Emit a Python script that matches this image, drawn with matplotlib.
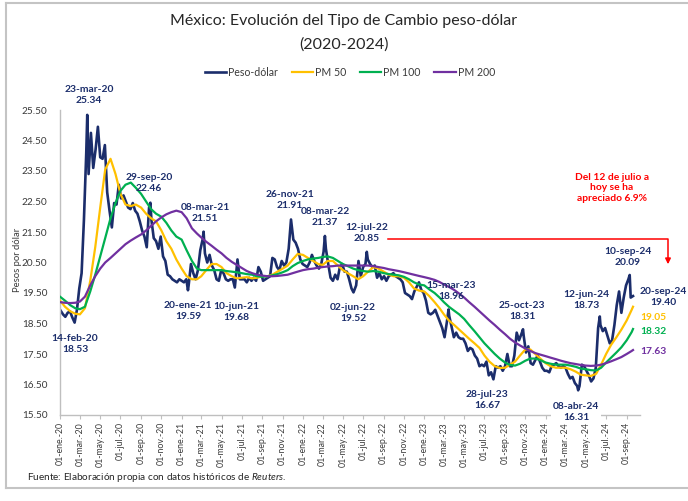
import matplotlib
matplotlib.use("Agg")
import matplotlib.pyplot as plt
import pandas as pd
from matplotlib.lines import Line2D

plt.rcParams["font.family"] = ["Lato", "DejaVu Sans"]
plt.rcParams["mathtext.fontset"] = "custom"
plt.rcParams["mathtext.it"] = "Lato:italic"
plt.rcParams["mathtext.rm"] = "Lato"

NAVY = "#1B2D6B"
GOLD = "#FFC000"
GREEN = "#00B050"
PURPLE = "#7030A0"
RED = "#FF0000"
TXT = "#3A3A3A"

# ---------------- data ----------------
# Weekly (Friday) closes of the peso-dollar exchange rate
fx_2020 = [18.92, 18.80, 18.72, 18.85, 18.90,
           18.70, 18.55, 18.95, 19.65,
           20.15, 21.90, 24.10, 23.40,
           24.75, 23.60, 24.20, 24.95,
           23.95, 23.90, 24.35, 22.80, 22.20,
           21.65, 22.45, 22.40, 23.05,
           22.60, 22.70, 22.50, 22.30, 22.25,
           22.45, 22.20, 22.10, 21.85,
           21.55, 21.35, 21.00, 22.30,
           21.90, 21.30, 21.20, 20.95, 21.35,
           20.70, 20.55, 20.10, 20.05,
           19.95, 19.90, 19.85, 19.95]
fx_2021 = [19.90, 19.85, 19.95, 19.75, 20.45,
           20.15, 19.95, 20.25, 20.90,
           21.25, 20.80, 20.50, 20.75,
           20.40, 20.25, 19.95, 19.90, 20.25,
           20.15, 19.95, 19.90, 19.95,
           19.95, 19.80, 20.60, 19.95,
           19.95, 19.95, 19.85, 20.00, 19.90,
           20.00, 19.90, 20.35, 20.20,
           19.90, 19.95, 20.00, 20.05,
           20.65, 20.60, 20.35, 20.25, 20.55,
           20.40, 20.50, 20.95, 21.91,
           21.25, 21.15, 20.95, 20.60, 20.45]
fx_2022 = [20.40, 20.35, 20.50, 20.75,
           20.55, 20.40, 20.30, 20.45,
           20.85, 20.95, 20.45, 20.00,
           19.90, 20.10, 19.95, 20.35, 20.45,
           20.20, 20.20, 19.95, 19.65,
           19.55, 19.75, 20.55, 20.05,
           20.35, 20.45, 20.60, 20.45, 20.35,
           20.40, 20.00, 20.15, 19.95,
           20.05, 19.90, 20.05, 20.10, 20.15,
           20.05, 20.00, 19.95, 19.85,
           19.50, 19.45, 19.40, 19.30,
           19.55, 19.70, 19.85, 19.60, 19.50]
fx_2023 = [19.25, 18.85, 18.80, 18.85,
           18.95, 18.75, 18.55, 18.35,
           18.05, 18.55, 18.75, 18.40, 18.05,
           18.20, 18.05, 18.00, 18.00,
           17.85, 17.60, 17.70, 17.65,
           17.45, 17.35, 17.10, 17.15, 17.10,
           17.25, 16.80, 16.90, 16.70,
           17.10, 17.05, 17.10, 16.95,
           17.10, 17.50, 17.10, 17.10, 17.45,
           18.20, 17.95, 18.15, 18.10,
           17.55, 17.75, 17.20, 17.15,
           17.30, 17.45, 17.25, 17.05, 16.95]
fx_2024 = [16.95, 16.90, 17.10, 17.15,
           17.20, 17.10, 17.05, 17.10,
           17.05, 16.85, 16.70, 16.75, 16.55,
           16.45, 16.45, 17.15, 17.10,
           16.95, 16.80, 16.60, 16.70, 17.05,
           18.35, 18.45, 18.25, 18.35,
           18.10, 17.85, 17.95, 18.45,
           19.10, 19.55, 18.85, 19.35, 19.75,
           19.95, 19.35, 19.40]

# Highlighted daily closes
label_dates = ["2020-02-14", "2020-03-23", "2020-09-29", "2021-01-20",
               "2021-03-08", "2021-06-10", "2021-11-26", "2022-03-08",
               "2022-06-02", "2022-07-12", "2023-03-15", "2023-07-28",
               "2023-10-25", "2024-04-08", "2024-06-12", "2024-09-10",
               "2024-09-20"]
label_values = [18.53, 25.34, 22.46, 19.59, 21.51, 19.68, 21.91, 21.37,
                19.52, 20.85, 18.96, 16.67, 18.31, 16.31, 18.73, 20.09,
                19.40]
label_names = ["14-feb-20", "23-mar-20", "29-sep-20", "20-ene-21",
               "08-mar-21", "10-jun-21", "26-nov-21", "08-mar-22",
               "02-jun-22", "12-jul-22", "15-mar-23", "28-jul-23",
               "25-oct-23", "08-abr-24", "12-jun-24", "10-sep-24",
               "20-sep-24"]

# Moving averages, sampled on the 1st and 16th of each month
pm50 = [
    19.25, 19.05, 18.90, 18.82, 18.80, 19.00, 19.90, 21.00, 22.30, 23.55, 23.90, 23.40,
    22.75, 22.40, 22.35, 22.40, 22.30, 22.10, 21.95, 21.85, 21.55, 21.20, 20.95, 20.60,
    20.30, 20.05, 19.95, 19.95, 20.05, 20.25, 20.45, 20.45, 20.35, 20.15, 20.05, 19.98,
    20.00, 20.02, 19.98, 20.00, 20.05, 20.05, 20.10, 20.20, 20.30, 20.40, 20.60, 20.78,
    20.75, 20.65, 20.55, 20.45, 20.42, 20.55, 20.55, 20.40, 20.25, 20.15, 20.05, 19.95,
    20.05, 20.20, 20.35, 20.30, 20.20, 20.10, 20.05, 20.05, 20.00, 19.85, 19.65, 19.58,
    19.55, 19.40, 19.20, 19.00, 18.80, 18.60, 18.45, 18.30, 18.15, 18.00, 17.85, 17.70,
    17.45, 17.25, 17.10, 17.04, 17.05, 17.15, 17.25, 17.45, 17.65, 17.65, 17.50, 17.35,
    17.20, 17.10, 17.05, 17.05, 17.05, 17.00, 16.92, 16.82, 16.80, 16.78, 16.85, 17.15,
    17.50, 17.80, 18.05, 18.30, 18.60, 18.95, 19.05]
pm100 = [
    19.38, 19.25, 19.10, 19.00, 18.97, 19.05, 19.55, 20.10, 20.70, 21.30, 21.95, 22.45,
    22.85, 23.05, 23.12, 22.95, 22.75, 22.50, 22.25, 22.10, 22.00, 21.80, 21.55, 21.35,
    21.25, 20.90, 20.55, 20.30, 20.25, 20.25, 20.25, 20.25, 20.25, 20.22, 20.20, 20.18,
    20.15, 20.12, 20.10, 20.05, 20.03, 20.05, 20.08, 20.12, 20.18, 20.25, 20.38, 20.48,
    20.55, 20.60, 20.63, 20.65, 20.68, 20.70, 20.65, 20.55, 20.45, 20.38, 20.30, 20.25,
    20.22, 20.20, 20.22, 20.20, 20.15, 20.12, 20.10, 20.08, 20.03, 19.95, 19.85, 19.78,
    19.75, 19.62, 19.50, 19.35, 19.20, 19.05, 18.92, 18.80, 18.65, 18.45, 18.25, 18.05,
    17.85, 17.68, 17.50, 17.35, 17.22, 17.14, 17.12, 17.18, 17.28, 17.35, 17.35, 17.30,
    17.22, 17.18, 17.15, 17.15, 17.15, 17.12, 17.08, 17.02, 17.00, 16.97, 16.96, 17.05,
    17.22, 17.38, 17.55, 17.72, 17.95, 18.22, 18.32]
pm200 = [
    19.20, 19.18, 19.17, 19.18, 19.22, 19.38, 19.75, 20.05, 20.30, 20.50, 20.65, 20.80,
    20.95, 21.10, 21.22, 21.32, 21.42, 21.55, 21.70, 21.85, 21.98, 22.08, 22.15, 22.20,
    22.15, 21.95, 21.62, 21.45, 21.32, 21.18, 21.05, 20.92, 20.80, 20.65, 20.52, 20.42,
    20.32, 20.22, 20.15, 20.10, 20.07, 20.05, 20.05, 20.06, 20.08, 20.10, 20.15, 20.20,
    20.25, 20.28, 20.30, 20.33, 20.35, 20.37, 20.38, 20.40, 20.40, 20.40, 20.40, 20.40,
    20.40, 20.40, 20.38, 20.35, 20.32, 20.28, 20.25, 20.22, 20.18, 20.14, 20.10, 20.06,
    20.02, 19.98, 19.93, 19.86, 19.78, 19.70, 19.60, 19.48, 19.35, 19.20, 19.05, 18.90,
    18.75, 18.60, 18.45, 18.30, 18.15, 18.00, 17.88, 17.78, 17.68, 17.60, 17.53, 17.48,
    17.43, 17.38, 17.33, 17.28, 17.24, 17.20, 17.17, 17.14, 17.12, 17.11, 17.12, 17.15,
    17.20, 17.26, 17.33, 17.40, 17.50, 17.60, 17.63]

month_abbr = ["ene", "feb", "mar", "abr", "may", "jun",
              "jul", "ago", "sep", "oct", "nov", "dic"]
y_ticks = [15.5, 16.5, 17.5, 18.5, 19.5, 20.5, 21.5, 22.5, 23.5, 24.5, 25.5]

# ---------------- series assembly ----------------
weekly_parts = [(2020, fx_2020, None), (2021, fx_2021, None), (2022, fx_2022, None),
                (2023, fx_2023, None), (2024, fx_2024, "2024-09-20")]
parts = []
for year, vals, end in weekly_parts:
    idx = pd.date_range(f"{year}-01-01", end or f"{year}-12-31", freq="W-FRI")
    parts.append(pd.Series(vals, index=idx))
weekly = pd.concat(parts)
labeled = pd.Series(label_values, index=pd.to_datetime(label_dates))
fx = pd.concat([weekly[~weekly.index.isin(labeled.index)], labeled]).sort_index()

ma_dates = []
for y in range(2020, 2025):
    for m in range(1, 13):
        if y == 2024 and m > 9:
            break
        ma_dates += [pd.Timestamp(y, m, 1), pd.Timestamp(y, m, 16)]
ma_dates.append(pd.Timestamp("2024-09-20"))
ma_index = pd.DatetimeIndex(ma_dates)

# ---------------- figure ----------------
W, H = 688, 501
fig = plt.figure(figsize=(W / 100, H / 100), dpi=100)
fig.patch.set_facecolor("white")


def fx_(x):
    return x / W


def fy_(y):
    return 1 - y / H


ax = fig.add_axes([fx_(60), fy_(415), (640 - 60) / W, (415 - 110) / H])

ln_fx, = ax.plot(fx.index, fx.values, color=NAVY, lw=1.9, zorder=2,
                 solid_joinstyle="round", label="Peso-dólar")
ln50, = ax.plot(ma_index, pm50, color=GOLD, lw=1.6, zorder=3, label="PM 50")
ln100, = ax.plot(ma_index, pm100, color=GREEN, lw=1.6, zorder=3, label="PM 100")
ln200, = ax.plot(ma_index, pm200, color=PURPLE, lw=1.6, zorder=3, label="PM 200")

ax.set_xlim(pd.Timestamp("2020-01-01"), pd.Timestamp("2024-10-11"))
ax.set_ylim(15.5, 25.5)

xt = pd.date_range("2020-01-01", "2024-09-01", freq="2MS")
ax.set_xticks(xt)
ax.set_xticklabels([f"01-{month_abbr[d.month - 1]}.-{d.year % 100:02d}" for d in xt],
                   rotation=90, fontsize=6.3, color=TXT)
ax.set_yticks(y_ticks)
ax.set_yticklabels([f"{v:.2f}" for v in y_ticks], fontsize=7.2, color=TXT)
ax.tick_params(axis="y", length=0, pad=9)
ax.tick_params(axis="x", length=3, color="#BFBFBF", pad=2)

for s in ("top", "right"):
    ax.spines[s].set_visible(False)
for s in ("left", "bottom"):
    ax.spines[s].set_color("#BFBFBF")
    ax.spines[s].set_linewidth(1.0)
ax.set_facecolor("white")

# ---------------- texts ----------------
fig.text(fx_(344), fy_(21), "México: Evolución del Tipo de Cambio peso-dólar",
         ha="center", va="center", fontsize=11.5, color="#262626")
fig.text(fx_(344), fy_(45), "(2020-2024)",
         ha="center", va="center", fontsize=11.5, color="#262626")

ax.legend(handles=[ln_fx, ln50, ln100, ln200], loc="center",
          bbox_to_anchor=(fx_(350), fy_(72)), bbox_transform=fig.transFigure,
          ncol=4, frameon=False, fontsize=7.6, handlelength=2.0,
          handletextpad=0.2, columnspacing=1.3, labelcolor=TXT)

fig.text(fx_(17), fy_(260), "Pesos por dólar", rotation=90, ha="center",
         va="center", fontsize=6.8, color=TXT)

label_pos = [(75, 344), (89, 95), (149, 183), (188, 311), (205, 213),
             (236, 312), (290, 200), (325, 217), (353, 313), (367, 233),
             (451, 291), (487, 400), (522, 311), (576, 412), (586, 300),
             (628, 257), (663, 297)]
for name, val, (px, py) in zip(label_names, label_values, label_pos):
    bbox = None
    if name == "08-abr-24":
        bbox = dict(boxstyle="square,pad=0.15", fc="white", ec="none")
    fig.text(fx_(px), fy_(py), f"{name}\n{val:.2f}", ha="center", va="center",
             multialignment="center", fontsize=7.4, fontweight="bold",
             color=NAVY, linespacing=1.2, bbox=bbox, zorder=5)

for series, color, py in ((pm50, GOLD, 318), (pm100, GREEN, 331), (pm200, PURPLE, 352)):
    fig.text(fx_(653), fy_(py), f"{series[-1]:.2f}", ha="center", va="center",
             fontsize=7.4, fontweight="bold", color=color)

fig.text(fx_(612), fy_(188), "Del 12 de julio a\nhoy se ha\napreciado 6.9%",
         ha="center", va="center", multialignment="center", fontsize=7.4,
         fontweight="bold", color=RED, linespacing=1.25)

fig.add_artist(Line2D([fx_(388), fx_(668), fx_(668)], [fy_(239), fy_(239), fy_(258)],
                      color=RED, lw=1.1))
ax.annotate("", xy=(668, H - 267), xytext=(668, H - 256), xycoords="figure pixels",
            textcoords="figure pixels",
            arrowprops=dict(arrowstyle="-|>", color=RED, lw=1.1, mutation_scale=8))

fig.text(fx_(27), fy_(478),
         r"Fuente: Elaboración propia con datos históricos de $\mathit{Reuters}$.",
         ha="left", va="center", fontsize=7.2, color="#262626")

# frame around the figure
frame_kw = dict(color="#C4C4C4", lw=1.5)
fig.add_artist(Line2D([fx_(6), fx_(6)], [fy_(3), fy_(488)], **frame_kw))
fig.add_artist(Line2D([fx_(6), 1], [fy_(3), fy_(3)], **frame_kw))
fig.add_artist(Line2D([fx_(6), 1], [fy_(488), fy_(488)], **frame_kw))

fig.savefig("out.png", dpi=100)
